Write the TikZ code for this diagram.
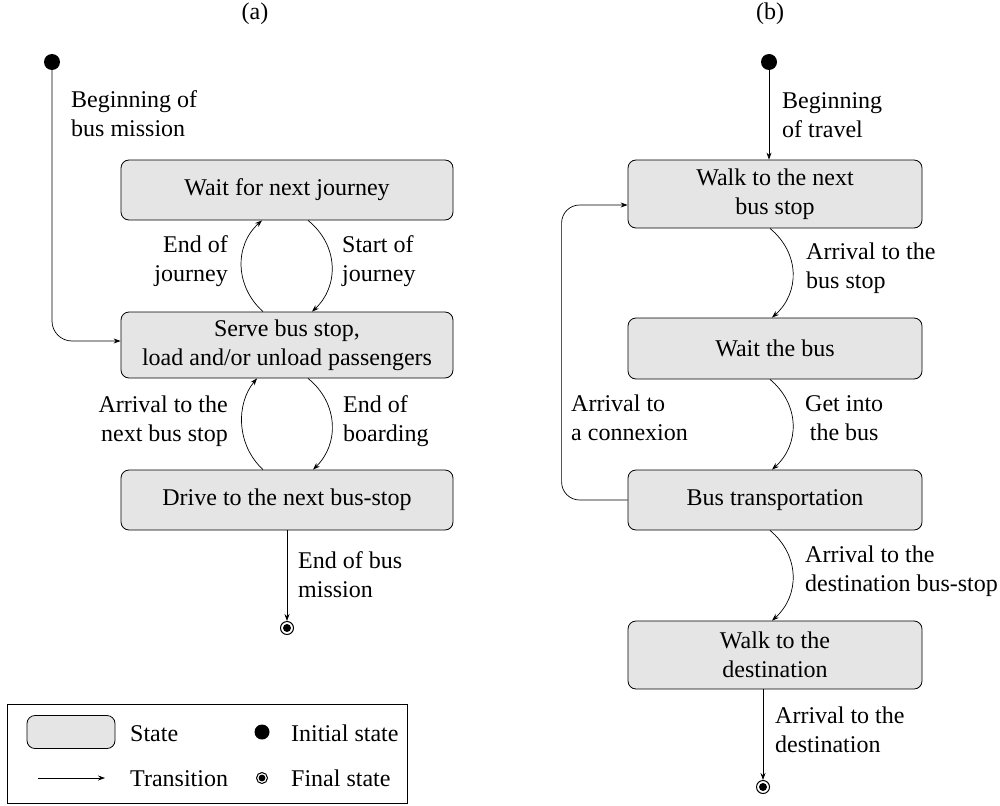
\documentclass[tikz,border=0pt]{standalone}
\usepackage{fontspec}
\setmainfont{Liberation Serif}
\usetikzlibrary{arrows.meta}
\begin{document}
\begin{tikzpicture}[x=1pt,y=-1pt,
  every node/.style={font=\fontsize{24}{29}\selectfont},
  stbox/.style={draw, fill=black!10, rounded corners=8pt, line width=0.8pt, inner sep=0pt, align=center},
  boxa/.style={stbox, minimum width=332pt},
  boxb/.style={stbox, minimum width=294pt},
  initst/.style={circle, fill=black, inner sep=0pt, minimum size=16pt},
  finalst/.style={circle, draw, line width=1pt, inner sep=0pt, minimum size=13pt,
     path picture={\fill (path picture bounding box.center) circle (4pt);}},
  trans/.style={line width=0.7pt, -{Stealth[length=7pt,width=5pt]}},
  lbl/.style={inner sep=0pt, align=left},
]
\useasboundingbox (0,0) rectangle (1000,805);

% titles
\node[anchor=base] (ta) at (255,20) {(a)};
\node[anchor=base] (tb) at (770,20) {(b)};

% ---------- panel (a) ----------
\node[initst] (i1) at (52,62) {};
\node[boxa, minimum height=60pt] (s1) at (287,190) {Wait for next journey};
\node[boxa, minimum height=66pt] (s2) at (287,345) {Serve bus stop,\\load and/or unload passengers};
\node[boxa, minimum height=60pt] (s3) at (287,500) {Drive to the next bus-stop};
\node[finalst] (f1) at (287,628) {};

\draw[trans, rounded corners=20pt] (i1) |- ([yshift=4pt]s2.west);
\draw[trans] ([xshift=-24pt]s2.north) .. controls +(-28,-25) and +(-28,25) .. ([xshift=-25pt]s1.south);
\draw[trans] ([xshift=21pt]s1.south) .. controls +(31,25) and +(27,-25) .. ([xshift=25pt]s2.north);
\draw[trans] ([xshift=-24pt]s3.north) .. controls +(-27,-25) and +(-21,25) .. ([xshift=-30pt]s2.south);
\draw[trans] ([xshift=21pt]s2.south) .. controls +(31,25) and +(26,-25) .. ([xshift=26pt]s3.north);
\draw[trans] (s3.south) -- (f1.north);

\node[lbl, anchor=base west] (la1) at (71,137) {Beginning of\\bus mission};
\node[lbl, anchor=base east, align=right] (la2) at (228,281) {End of\\journey};
\node[lbl, anchor=base west] (la3) at (342,281) {Start of\\journey};
\node[lbl, anchor=base east, align=right] (la4) at (228,441) {Arrival to the\\next bus stop};
\node[lbl, anchor=base west] (la5) at (343,441) {End of\\boarding};
\node[lbl, anchor=base west] (la6) at (298,597) {End of bus\\mission};

% ---------- legend ----------
\draw[line width=0.8pt] (7,704) rectangle (407,803);
\node[stbox, minimum width=88pt, minimum height=33pt] (lgs) at (71,732) {};
\node[lbl, anchor=base west] (lgst) at (130,741) {State};
\coordinate (lga) at (38,778);
\coordinate (lgb) at (105,778);
\draw[trans] (lga) -- (lgb);
\node[lbl, anchor=base west] (lgtt) at (130,786) {Transition};
\node[initst, minimum size=15pt] (lgi) at (262,732) {};
\node[lbl, anchor=base west] (lgit) at (291,741) {Initial state};
\node[finalst, minimum size=11pt, path picture={\fill (path picture bounding box.center) circle (3.4pt);}] (lgf) at (262,778) {};
\node[lbl, anchor=base west] (lgft) at (291,786) {Final state};

% ---------- panel (b) ----------
\node[initst] (j1) at (769,62) {};
\node[boxb, minimum height=68pt] (t1) at (775,194) {Walk to the next\\bus stop};
\node[boxb, minimum height=61pt] (t2) at (775,348.5) {Wait the bus};
\node[boxb, minimum height=60pt] (t3) at (775,500) {Bus transportation};
\node[boxb, minimum height=68pt] (t4) at (775,655) {Walk to the\\destination};
\node[finalst] (f2) at (763,787) {};

\draw[trans] (j1) -- (j1 |- t1.north);
\draw[trans] ([xshift=-5pt]t1.south) .. controls +(30,25) and +(28,-25) .. ([xshift=-3pt]t2.north);
\draw[trans] ([xshift=-5pt]t2.south) .. controls +(30,25) and +(28,-25) .. ([xshift=-3pt]t3.north);
\draw[trans] ([xshift=-5pt]t3.south) .. controls +(30,25) and +(28,-25) .. ([xshift=-3pt]t4.north);
\draw[trans, rounded corners=18pt] (t3.west) -- ++(-66,0) |- ([yshift=-11pt]t1.west);
\draw[trans] ([xshift=-12pt]t4.south) -- (f2.north);

\node[lbl, anchor=base west] (lb1) at (782,138) {Beginning\\of travel};
\node[lbl, anchor=base west] (lb2) at (806,288) {Arrival to the\\bus stop};
\node[lbl, anchor=base west, align=center] (lb3) at (805,440) {Get into\\the bus};
\node[lbl, anchor=base west] (lb4) at (571,440) {Arrival to\\a connexion};
\node[lbl, anchor=base west] (lb5) at (805,591) {Arrival to the\\destination bus-stop};
\node[lbl, anchor=base west] (lb6) at (775,752) {Arrival to the\\destination};
\end{tikzpicture}
\end{document}
